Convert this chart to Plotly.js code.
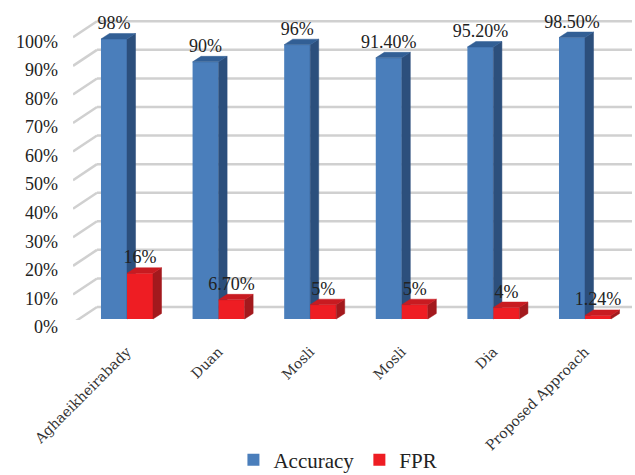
<!DOCTYPE html>
<html>
<head>
<meta charset="utf-8">
<script src="https://cdn.plot.ly/plotly-3.0.1.min.js"></script>
<style>html,body{margin:0;padding:0;background:#fff}#chart{width:635px;height:475px}</style>
</head>
<body>
<div id="chart"></div>
<script>
// ---- data ----
const categories = ['Aghaeikheirabady', 'Duan', 'Mosli', 'Mosli', 'Dia', 'Proposed Approach'];
const accuracy = [98, 90, 96, 91.4, 95.2, 98.5];
const fpr = [16, 6.7, 5, 5, 4, 1.24];
const accuracyLabels = ['98%', '90%', '96%', '91.40%', '95.20%', '98.50%'];
const fprLabels = ['16%', '6.70%', '5%', '5%', '4%', '1.24%'];
const yTickVals = [0, 10, 20, 30, 40, 50, 60, 70, 80, 90, 100];
const yTickText = ['0%', '10%', '20%', '30%', '40%', '50%', '60%', '70%', '80%', '90%', '100%'];

// ---- styling / geometry of the pseudo-3D look ----
const W = 0.284;   // bar width (category units)
const DX = 0.093;  // depth offset in x (category units)
const DY = 1.93;   // depth offset in y (value units)
const idx = categories.map((_, i) => i);

const blue = {front: '#4a7ebb', side: '#2c4f7c', top: '#325f95'};
const red = {front: '#ee1d23', side: '#a3191d', top: '#c81b21'};

function sideFace(vals, left) {
  const xs = [], ys = [];
  vals.forEach((v, i) => {
    const r = i + left + W;
    xs.push(r, r + DX, r + DX, r, r, null);
    ys.push(0, DY, v + DY, v, 0, null);
  });
  return {xs, ys};
}
function topFace(vals, left) {
  const xs = [], ys = [];
  vals.forEach((v, i) => {
    const l = i + left;
    xs.push(l, l + W, l + W + DX, l + DX, l, null);
    ys.push(v, v, v + DY, v + DY, v, null);
  });
  return {xs, ys};
}
function poly(face, color, xa, ya) {
  return {type: 'scatter', x: face.xs, y: face.ys, xaxis: xa, yaxis: ya, mode: 'lines',
    fill: 'toself', fillcolor: color, line: {color: color, width: 0.5},
    showlegend: false, hoverinfo: 'skip', cliponaxis: false};
}

const bSide = sideFace(accuracy, -W), bTop = topFace(accuracy, -W);
const rSide = sideFace(fpr, 0), rTop = topFace(fpr, 0);

const labelFont = {family: 'Liberation Serif, Times New Roman, serif', size: 18, color: '#222'};

const traces = [
  {type: 'bar', name: 'Accuracy', x: idx, y: accuracy, width: W, offset: -W,
   xaxis: 'x2', yaxis: 'y2', marker: {color: blue.front}, cliponaxis: false},
  poly(bSide, blue.side, 'x2', 'y2'),
  poly(bTop, blue.top, 'x2', 'y2'),
  {type: 'bar', name: 'FPR', x: idx, y: fpr, width: W, offset: 0,
   xaxis: 'x3', yaxis: 'y3', marker: {color: red.front}, cliponaxis: false},
  poly(rSide, red.side, 'x3', 'y3'),
  poly(rTop, red.top, 'x3', 'y3'),
  {type: 'scatter', mode: 'text', x: idx.map(i => i - W / 2), y: accuracy.map(v => v + DY),
   text: accuracyLabels, textposition: 'top center', textfont: labelFont,
   xaxis: 'x3', yaxis: 'y3', showlegend: false, hoverinfo: 'skip', cliponaxis: false},
  {type: 'scatter', mode: 'text', x: idx.map(i => i + W / 2), y: fpr.map(v => v + DY),
   text: fprLabels, textposition: 'top center', textfont: labelFont,
   xaxis: 'x3', yaxis: 'y3', showlegend: false, hoverinfo: 'skip', cliponaxis: false}
];

// back-wall gridlines with their perspective floor diagonals
const gridColor = '#d0d0d0';
const shapes = [];
yTickVals.forEach(tv => {
  shapes.push({type: 'line', xref: 'x', yref: 'y', x0: 24, x1: 559, y0: tv, y1: tv,
    line: {color: gridColor, width: 2.5}, layer: 'below'});
  shapes.push({type: 'line', xref: 'x', yref: 'y', x0: 0, x1: 24, y0: tv - 5.6, y1: tv,
    line: {color: gridColor, width: 2.5}, layer: 'below'});
});

const barRange = [-0.5895, 5.5131];
const valRange = [-0.35, 108.15];

const layout = {
  width: 635, height: 475,
  margin: {l: 73, r: 3, t: 10, b: 155, autoexpand: false},
  paper_bgcolor: '#fff', plot_bgcolor: 'rgba(0,0,0,0)',
  showlegend: true,
  xaxis: {domain: [0, 1], range: [0, 559], visible: false, fixedrange: true, automargin: false},
  yaxis: {range: [-4.55, 103.95], tickvals: yTickVals, ticktext: yTickText, automargin: false,
    showgrid: false, zeroline: false, showline: false, ticks: '',
    ticklabelshift: 20, ticklabelstandoff: 14, tickfont: labelFont, fixedrange: true},
  xaxis2: {overlaying: 'x', anchor: 'y2', range: barRange, tickvals: idx, ticktext: categories,
    tickangle: -45, showgrid: false, zeroline: false, showline: false, ticks: '',
    ticklabelstandoff: 20, automargin: false,
    tickfont: {family: 'DejaVu Serif, serif', size: 14, color: '#333'}},
  yaxis2: {overlaying: 'y', anchor: 'x2', range: valRange, visible: false, automargin: false},
  xaxis3: {overlaying: 'x', anchor: 'y3', range: barRange, visible: false, automargin: false},
  yaxis3: {overlaying: 'y', anchor: 'x3', range: valRange, visible: false, automargin: false},
  barmode: 'overlay',
  legend: {orientation: 'h', x: 0.287, xanchor: 'left', y: -0.452, yanchor: 'middle',
    font: {family: 'Liberation Serif, Times New Roman, serif', size: 21, color: '#222'},
    bgcolor: 'rgba(0,0,0,0)'},
  shapes: shapes
};

Plotly.newPlot('chart', traces, layout, {displayModeBar: false, staticPlot: true});
</script>
</body>
</html>
